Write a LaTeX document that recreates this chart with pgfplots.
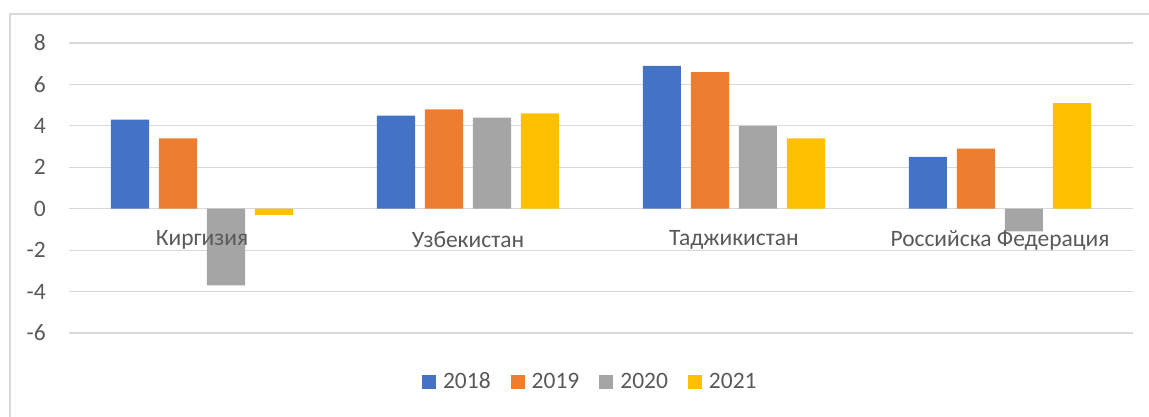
\documentclass[border=0pt]{standalone}
\usepackage{fontspec}
\setmainfont{Carlito}
\usepackage{pgfplots}
\pgfplotsset{compat=1.18}
\definecolor{c18}{HTML}{4472C4}
\definecolor{c19}{HTML}{ED7D31}
\definecolor{c20}{HTML}{A5A5A5}
\definecolor{c21}{HTML}{FFC000}
\definecolor{txt}{HTML}{595959}
\definecolor{grd}{HTML}{D9D9D9}
\begin{document}
\begin{tikzpicture}[x=1pt,y=1pt]
\draw[grd, line width=1.2pt] (10,-10) -- (10,403) -- (1160,403);
\begin{axis}[
  at={(69pt,84pt)}, anchor=south west,
  scale only axis, width=1064pt, height=290pt,
  xmin=-0.5, xmax=3.5, ymin=-6, ymax=8,
  ytick={-6,-4,...,8},
  xtick=\empty,
  major tick length=0pt,
  axis line style={draw=none},
  ymajorgrids, grid style={grd, line width=1.2pt},
  font=\fontsize{23.5}{28}\selectfont,
  tick label style={text=txt},
  /pgf/number format/assume math mode=true,
  yticklabel style={anchor=east, inner sep=0pt, xshift=-23pt},
  ybar, bar width=0.143,
  legend columns=-1,
  legend style={draw=none, fill=none, at={(0.49,-0.168)}, anchor=center,
    font=\fontsize{23.5}{28}\selectfont, text=txt,
    /tikz/every odd column/.append style={column sep=5pt},
    /tikz/every even column/.append style={column sep=18pt}},
  legend image code/.code={\fill[#1] (0pt,-7pt) rectangle (14pt,7pt);},
  after end axis/.code={
    \foreach \i/\lab in {0/Киргизия,1/Узбекистан,2/Таджикистан,3/Российска Федерация}{
      \node[anchor=center, inner sep=0pt, text=txt, font=\fontsize{23.5}{28}\selectfont, yshift=-31.3pt] at (axis cs:\i,0) {\lab};
    }
  },
]
\addplot[fill=c18, draw=none, bar shift=-0.2707] coordinates {(0,4.3) (1,4.5) (2,6.9) (3,2.5)};
\addplot[fill=c19, draw=none, bar shift=-0.0902] coordinates {(0,3.4) (1,4.8) (2,6.6) (3,2.9)};
\addplot[fill=c20, draw=none, bar shift=0.0902] coordinates {(0,-3.7) (1,4.4) (2,4.0) (3,-1.1)};
\addplot[fill=c21, draw=none, bar shift=0.2707] coordinates {(0,-0.3) (1,4.6) (2,3.4) (3,5.1)};
\legend{2018,2019,2020,2021}
\end{axis}
\pgfresetboundingbox
\useasboundingbox (0,0) rectangle (1149,417);
\end{tikzpicture}
\end{document}
